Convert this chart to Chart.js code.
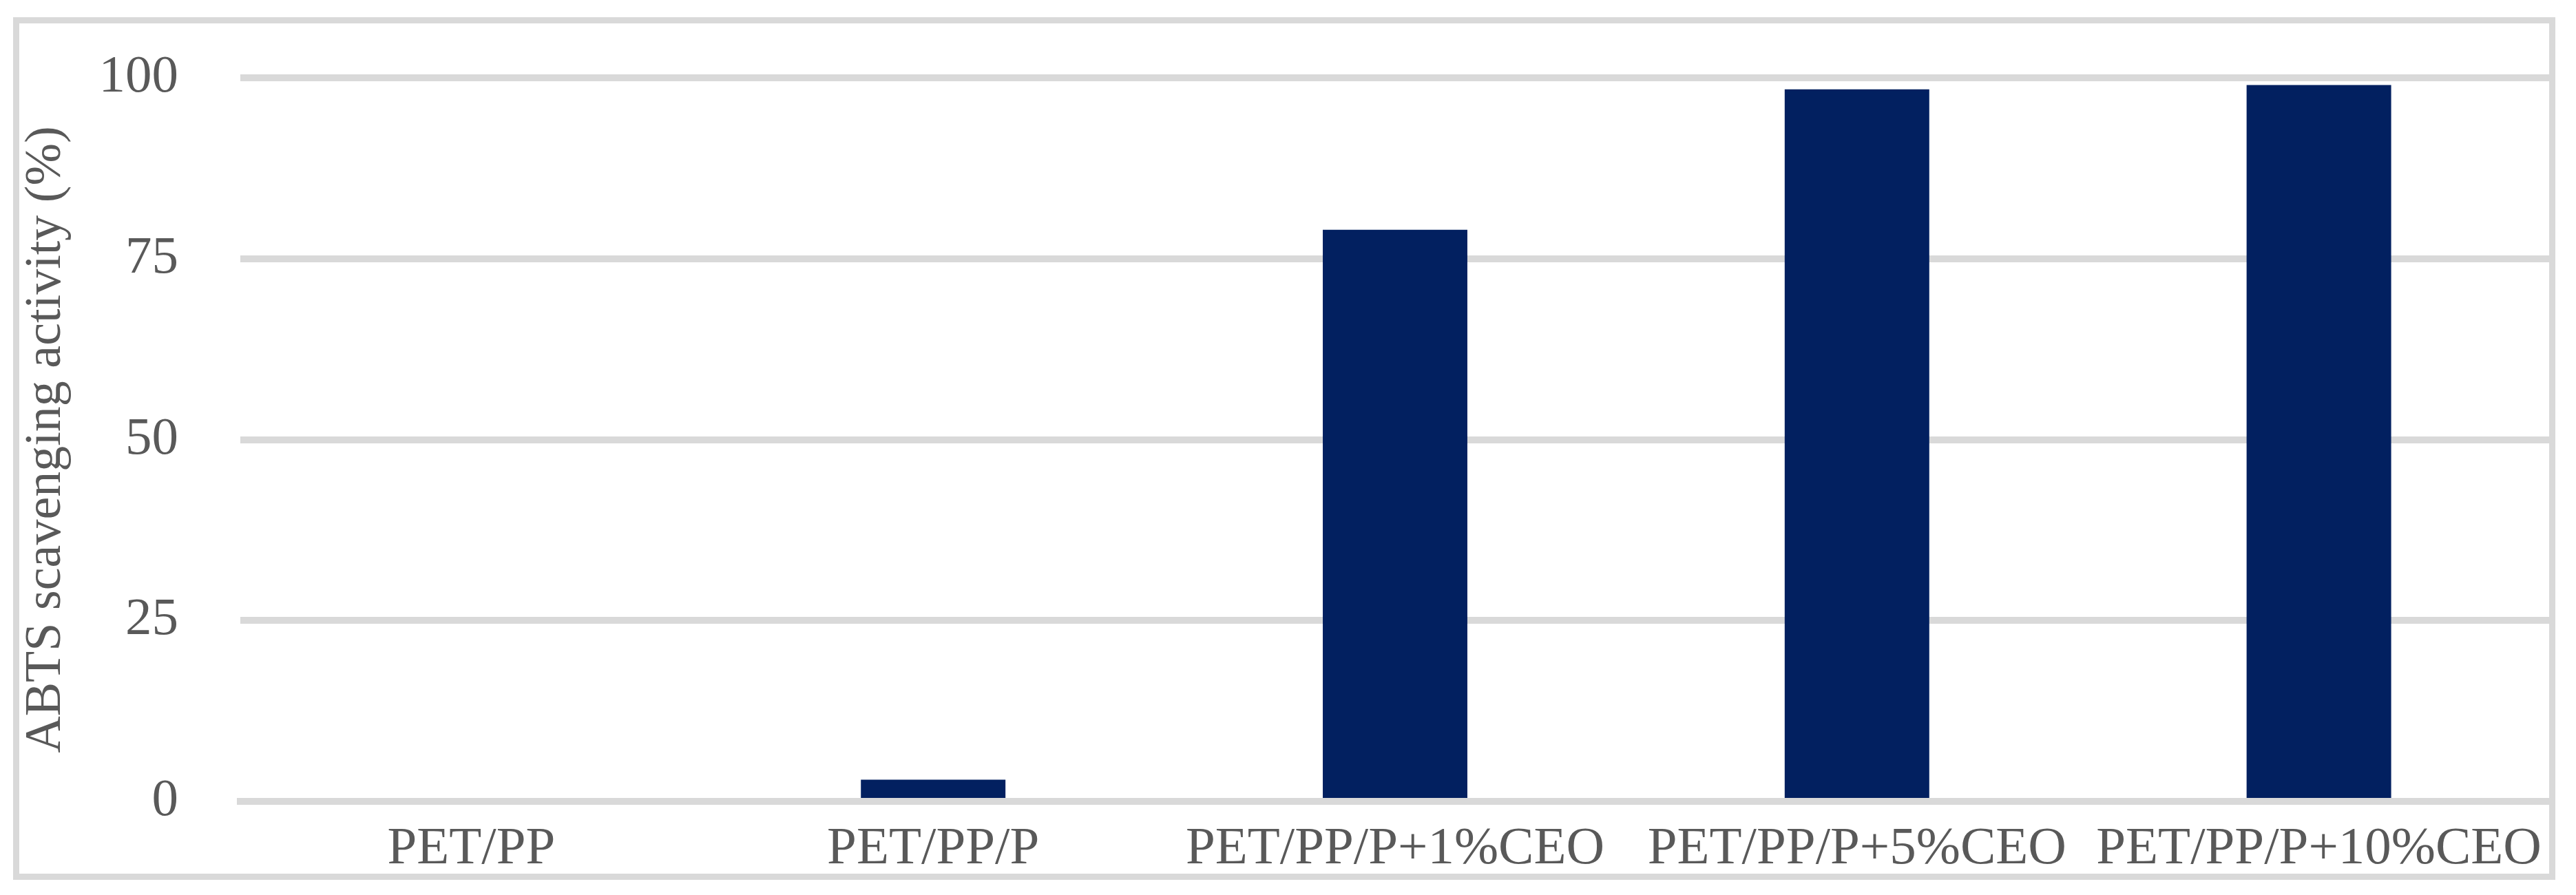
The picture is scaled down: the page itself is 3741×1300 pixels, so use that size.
<!DOCTYPE html>
<html>
<head>
<meta charset="utf-8">
<title>ABTS scavenging activity</title>
<script src="https://cdn.jsdelivr.net/npm/chart.js@4/dist/chart.umd.min.js"></script>
<style>
    body { margin: 0; background: #fff; }
    .chart-wrap { position: relative; width: 3741px; height: 1300px; }
    .chart-frame {
        position: absolute; left: 19px; top: 25px; width: 3692px; height: 1253px;
        box-sizing: border-box; border: 9px solid #d9d9d9; pointer-events: none;
    }
</style>
</head>
<body>
<div class="chart-wrap">
    <canvas id="barChart" width="3741" height="1300"></canvas>
    <div class="chart-frame"></div>
</div>
<script>
var categories = ["PET/PP", "PET/PP/P", "PET/PP/P+1%CEO", "PET/PP/P+5%CEO", "PET/PP/P+10%CEO"];
var activity = [0, 3, 79, 98.4, 99];
var yTicks = [0, 25, 50, 75, 100];
var yTitle = "ABTS scavenging activity (%)";

// ------------------------------------------------------- //
// Bar chart
// ------------------------------------------------------ //
var fontFamily = "'Liberation Serif', 'Times New Roman', serif";
var textColor = '#595959';
var lineColor = '#d9d9d9';

var ctx = document.getElementById("barChart").getContext('2d');
var myBarChart = new Chart(ctx, {
    type: 'bar',
    data: {
        labels: categories,
        datasets: [{
            label: yTitle,
            data: activity,
            backgroundColor: '#022060',
            borderWidth: 0,
            barPercentage: 0.313,
            categoryPercentage: 1
        }]
    },
    options: {
        responsive: false,
        devicePixelRatio: 1,
        animation: false,
        layout: {
            padding: { left: 0, right: 38, top: 113, bottom: 0 }
        },
        plugins: {
            legend: { display: false },
            tooltip: { enabled: false }
        },
        scales: {
            x: {
                grid: { display: false },
                border: { display: true, color: lineColor, width: 10, z: 1 },
                ticks: {
                    color: textColor,
                    padding: 16,
                    maxRotation: 0,
                    autoSkip: false,
                    font: { family: fontFamily, size: 77 }
                },
                afterFit: function (scale) { scale.height = 136; }
            },
            y: {
                min: 0,
                max: 100,
                afterBuildTicks: function (scale) {
                    scale.ticks = yTicks.map(function (v) { return { value: v }; });
                },
                grid: { color: lineColor, lineWidth: 10, drawTicks: false },
                border: { display: false },
                ticks: {
                    color: textColor,
                    padding: 90,
                    font: { family: fontFamily, size: 77 }
                },
                title: {
                    display: true,
                    text: yTitle,
                    color: textColor,
                    padding: { top: 23, bottom: 0 },
                    font: { family: fontFamily, size: 74, weight: 'normal' }
                },
                afterFit: function (scale) {
                    // keep the label padding from pushing the plot area in
                    scale.width = 349;
                    scale.paddingTop = 0;
                    scale.paddingBottom = 0;
                }
            }
        }
    }
});
</script>
</body>
</html>
